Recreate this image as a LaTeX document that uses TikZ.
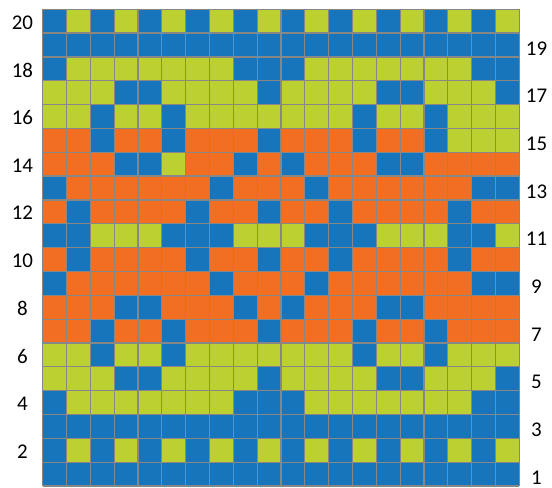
\documentclass[tikz,border=0pt]{standalone}
\usepackage{fontspec}
\setmainfont{Carlito}
\usepackage{tikz}
\definecolor{colB}{RGB}{22,117,187}
\definecolor{colY}{RGB}{189,208,50}
\definecolor{colO}{RGB}{241,110,35}
\definecolor{gridgray}{RGB}{135,135,135}

\begin{document}
\begin{tikzpicture}[x=0.5cm,y=0.5cm,font=\fontsize{12.5}{15}\selectfont]
\tikzset{cell/.style={line width=0pt},
  gridline/.style={draw=gridgray,line width=0.75pt},
  lab/.style={inner sep=0pt,anchor=center}}
\useasboundingbox (-1.79,-0.046) rectangle (21.37,20.39);
% chart rows, bottom (1) to top (20)
\foreach \r/\cells in {
 1/{B,B,B,B,B,B,B,B,B,B,B,B,B,B,B,B,B,B,B,B},
 2/{B,Y,B,Y,B,Y,B,Y,B,Y,B,Y,B,Y,B,Y,B,Y,B,Y},
 3/{B,B,B,B,B,B,B,B,B,B,B,B,B,B,B,B,B,B,B,B},
 4/{B,Y,Y,Y,Y,Y,Y,Y,B,B,B,Y,Y,Y,Y,Y,Y,Y,B,B},
 5/{Y,Y,Y,B,B,Y,Y,Y,Y,B,Y,Y,Y,Y,B,B,Y,Y,Y,B},
 6/{Y,Y,B,Y,Y,B,Y,Y,Y,Y,Y,Y,Y,B,Y,Y,B,Y,Y,Y},
 7/{O,O,B,O,O,B,O,O,O,B,O,O,O,B,O,O,B,O,O,O},
 8/{O,O,O,B,B,O,O,O,B,O,B,O,O,O,B,B,O,O,O,O},
 9/{B,O,O,O,O,O,O,B,O,O,O,B,O,O,O,O,O,O,B,B},
 10/{O,B,O,O,O,O,B,O,O,B,O,O,B,O,O,O,O,B,O,O},
 11/{B,B,Y,Y,Y,B,B,B,Y,Y,Y,B,B,B,Y,Y,Y,B,B,Y},
 12/{O,B,O,O,O,O,B,O,O,B,O,O,B,O,O,O,O,B,O,O},
 13/{B,O,O,O,O,O,O,B,O,O,O,B,O,O,O,O,O,O,B,B},
 14/{O,O,O,B,B,Y,O,O,B,O,B,O,O,O,B,B,O,O,O,O},
 15/{O,O,B,O,O,B,O,O,O,B,O,O,O,B,O,O,B,Y,Y,Y},
 16/{Y,Y,B,Y,Y,B,Y,Y,Y,Y,Y,Y,Y,B,Y,Y,B,Y,Y,Y},
 17/{Y,Y,Y,B,B,Y,Y,Y,Y,B,Y,Y,Y,Y,B,B,Y,Y,Y,B},
 18/{B,Y,Y,Y,Y,Y,Y,Y,B,B,B,Y,Y,Y,Y,Y,Y,Y,B,B},
 19/{B,B,B,B,B,B,B,B,B,B,B,B,B,B,B,B,B,B,B,B},
 20/{B,Y,B,Y,B,Y,B,Y,B,Y,B,Y,B,Y,B,Y,B,Y,B,Y}}
{
  \foreach \c [count=\x] in \cells
    \fill[cell,col\c] (\x-1,\r-1) rectangle (\x,\r);
}
% grid on top
\foreach \i in {0,...,20}{
  \draw[gridline] (\i,0) -- (\i,20);
  \draw[gridline] (0,\i) -- (20,\i);
}
% row numbers: even on the left, odd on the right
\foreach \r in {2,4,...,20}
  \node[lab] (lab\r) at (-0.85,\r-0.55) {\r};
\foreach \r in {1,3,...,19}
  \node[lab] (lab\r) at (20.72,\r-0.64) {\r};
\end{tikzpicture}
\end{document}
